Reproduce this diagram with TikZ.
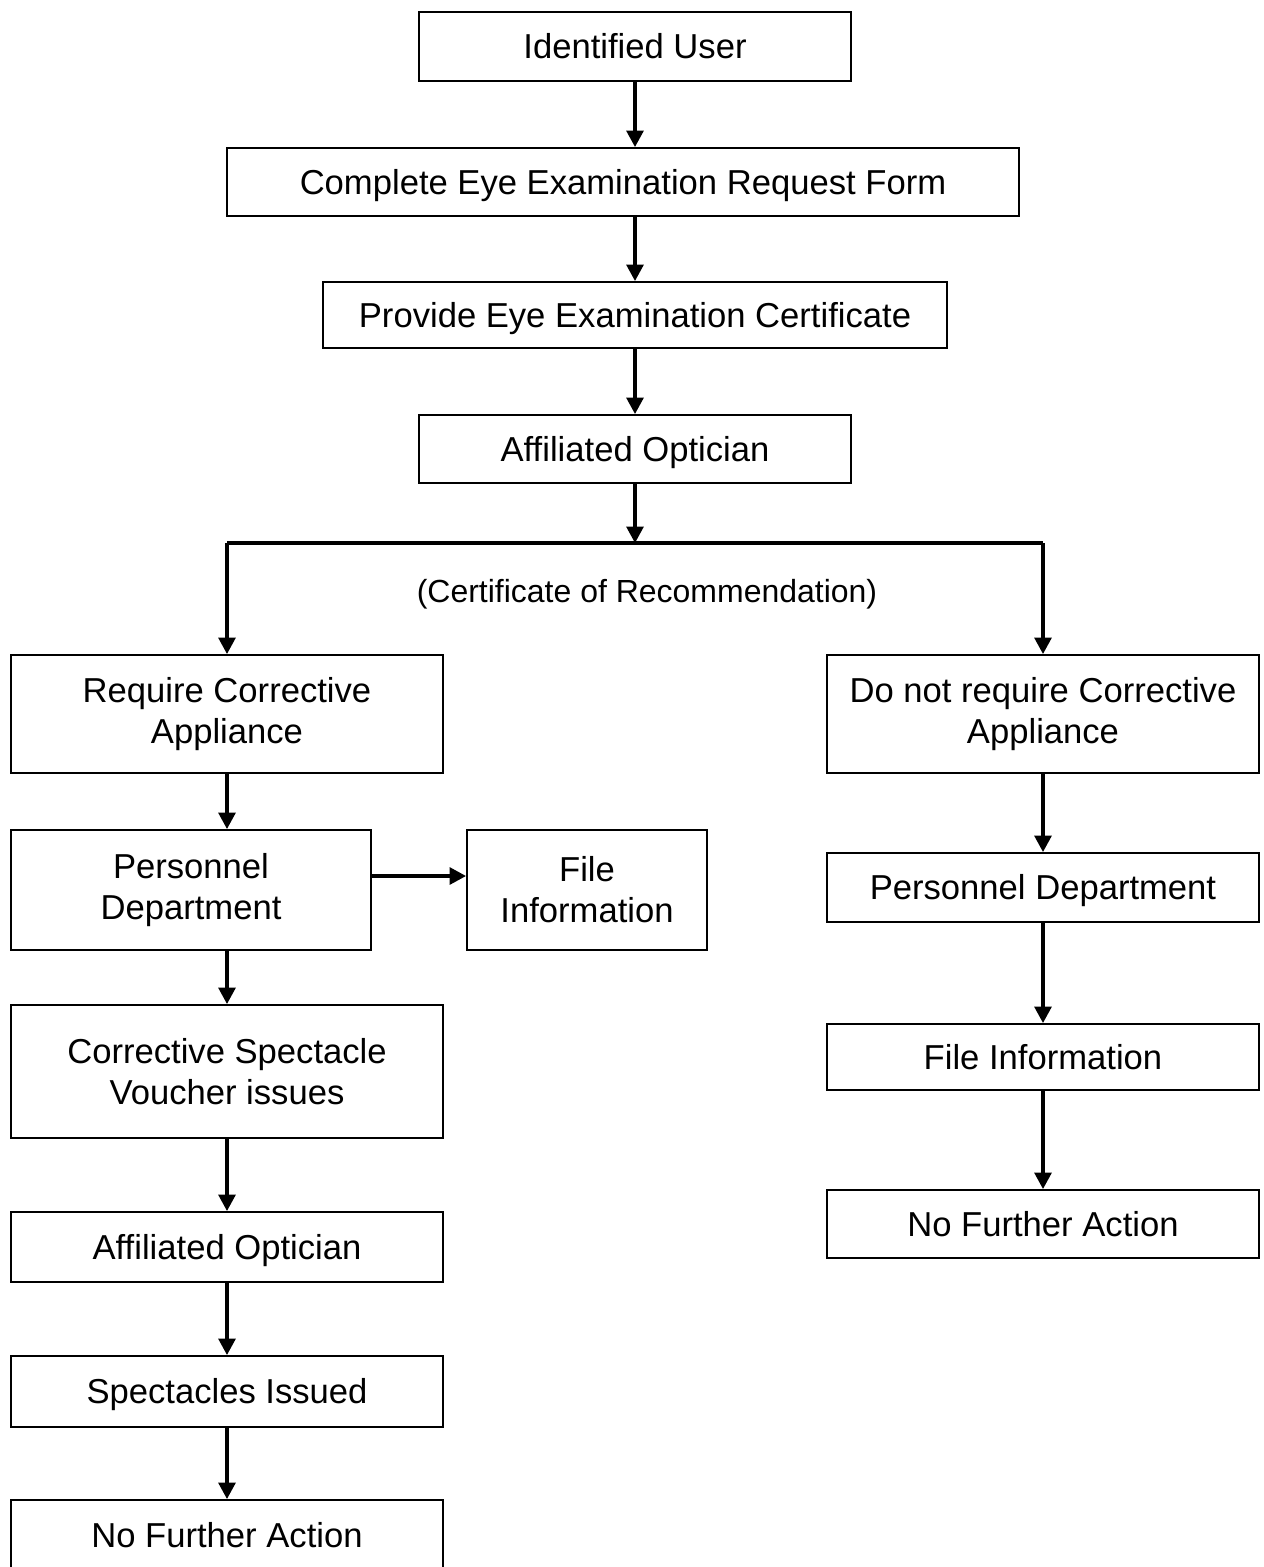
\documentclass[tikz,border=0pt]{standalone}
\usepackage{fontspec}
\setmainfont{Liberation Sans}
\usetikzlibrary{arrows.meta}
\tikzset{every node/.style={font=\fontsize{19.7}{23.3}\selectfont}}
\tikzset{box/.style={draw, line width=1.1pt, align=center, inner sep=0pt, minimum width=8.64cm}}
\tikzset{oneline/.style={box, text height=14.1pt, text depth=0pt}}
\tikzset{arr/.style={line width=1.8pt, -{Triangle[length=3.3mm,width=3.4mm]}}}

\begin{document}
\begin{tikzpicture}
			\useasboundingbox (0,0) rectangle (25.28,-31.34);
			% main line
			\node[oneline, minimum height=1.38cm] (user) at (12.7,-0.93) {Identified User};
			\node[oneline, minimum width=15.84cm, minimum height=1.36cm] (form) at (12.46,-3.64) {Complete Eye Examination Request Form};
			\node[oneline, minimum width=12.48cm, minimum height=1.32cm] (cert) at (12.7,-6.3) {Provide Eye Examination Certificate};
			\node[oneline, minimum height=1.36cm] (opt) at (12.7,-8.98) {Affiliated Optician};
			\coordinate (split) at (12.7,-10.86);
			\node[font=\fontsize{18.2}{21.5}\selectfont] (rec) at (12.94,-11.88) {(Certificate of Recommendation)};
			% left branch
			\node[box, minimum height=2.36cm] (req) at (4.54,-14.28) {Require Corrective\\Appliance};
			\node[box, minimum width=7.2cm, minimum height=2.4cm] (pers) at (3.82,-17.8) {Personnel\\Department};
			\node[box, minimum width=4.8cm, minimum height=2.4cm] (file) at (11.74,-17.8) {File\\Information};
			\node[box, minimum height=2.66cm] (voucher) at (4.54,-21.43) {Corrective Spectacle\\Voucher issues};
			\node[oneline, minimum height=1.4cm] (opttwo) at (4.54,-24.94) {Affiliated Optician};
			\node[oneline, minimum height=1.42cm] (specs) at (4.54,-27.83) {Spectacles Issued};
			\node[oneline, minimum height=1.4cm] (nfa) at (4.54,-30.7) {No Further Action};
			% right branch
			\node[box, minimum height=2.36cm] (noreq) at (20.86,-14.28) {Do not require Corrective\\Appliance};
			\node[oneline, minimum height=1.38cm] (rpers) at (20.86,-17.75) {Personnel Department};
			\node[oneline, minimum height=1.32cm] (rfile) at (20.86,-21.14) {File Information};
			\node[oneline, minimum height=1.36cm] (rnfa) at (20.86,-24.48) {No Further Action};
			% connectors
			\draw[arr] (user) -- (user.south |- form.north);
			\draw[arr] (user.south |- form.south) -- (cert);
			\draw[arr] (cert) -- (opt);
			\draw[arr] (opt) -- (split);
			\draw[line width=1.8pt] (req.north |- split) -- (noreq.north |- split);
			\draw[arr] (req.north |- split) -- (req.north);
			\draw[arr] (noreq.north |- split) -- (noreq.north);
			\draw[arr] (req.south) -- (req.south |- pers.north);
			\draw[arr] ([yshift=2.8mm]pers.east) -- ([yshift=2.8mm]file.west);
			\draw[arr] (req.south |- pers.south) -- (voucher.north);
			\draw[arr] (voucher) -- (opttwo);
			\draw[arr] (opttwo) -- (specs);
			\draw[arr] (specs) -- (nfa);
			\draw[arr] (noreq) -- (rpers);
			\draw[arr] (rpers) -- (rfile);
			\draw[arr] (rfile) -- (rnfa);
		\end{tikzpicture}
\end{document}
